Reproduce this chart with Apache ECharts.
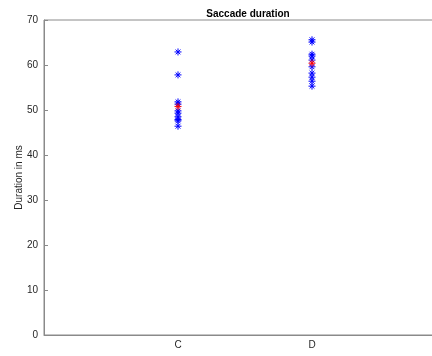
<!DOCTYPE html>
<html>
<head>
<meta charset="utf-8">
<script src="https://cdn.jsdelivr.net/npm/echarts@6/dist/echarts.min.js"></script>
<style>
  html, body { margin: 0; padding: 0; background: #fff; }
  #chart { width: 432px; height: 356px; }
</style>
</head>
<body>
<div id="chart"></div>
<script>
// Conditions along the x axis (placed at x = 1, 2, ...)
var categories = ['C', 'D'];
// Individual saccade durations (ms) per condition
var durationsC = [62.9, 57.8, 51.8, 51.3, 49.8, 49.3, 48.5, 47.9, 47.6, 46.4];
var durationsD = [65.6, 65.1, 62.4, 62.0, 61.1, 59.6, 58.2, 57.3, 56.4, 55.3];
// Mean duration per condition
var means = [50.8, 60.4];
// Y tick values
var yTicks = [0, 10, 20, 30, 40, 50, 60, 70];

var groups = [durationsC, durationsD];
var pointData = [];
groups.forEach(function (vals, i) {
  vals.forEach(function (v) { pointData.push([i + 1, v]); });
});
var meanData = means.map(function (v, i) { return [i + 1, v]; });

// Asterisk marker: vertical, horizontal and two diagonal strokes
var asterisk = 'path://M5,0L5,10M0,5L10,5M1.6,1.6L8.4,8.4M8.4,1.6L1.6,8.4';

var axisGray = '#8a8a8a';
var textGray = '#262626';
var font = 'Liberation Sans, Arial, Helvetica, sans-serif';

var chart = echarts.init(document.getElementById('chart'), null, { renderer: 'canvas' });
chart.setOption({
  animation: false,
  backgroundColor: '#fff',
  title: {
    text: 'Saccade duration',
    left: 243, top: 4,
    textAlign: 'center',
    textStyle: { fontFamily: font, fontSize: 10, fontWeight: 'bold', color: '#000' }
  },
  grid: {
    left: 44, right: -14, top: 20, bottom: 21,
    containLabel: false, outerBoundsMode: 'none',
    show: true, borderColor: axisGray, borderWidth: 1, backgroundColor: 'transparent'
  },
  xAxis: {
    type: 'value', min: 0, max: categories.length + 1, interval: 1,
    axisLine: { show: true, lineStyle: { color: axisGray } },
    axisTick: { show: false },
    splitLine: { show: false },
    axisLabel: {
      margin: 5, color: textGray, fontFamily: font, fontSize: 10,
      formatter: function (v) { return categories[v - 1] || ''; }
    }
  },
  yAxis: {
    type: 'value', min: yTicks[0], max: yTicks[yTicks.length - 1], interval: 10,
    name: 'Duration in ms', nameLocation: 'middle', nameGap: 20, nameMoveOverlap: false,
    nameTextStyle: { fontFamily: font, fontSize: 10, color: textGray },
    axisLine: { show: true, lineStyle: { color: axisGray } },
    axisTick: { show: true, inside: true, length: 4, lineStyle: { color: axisGray } },
    splitLine: { show: false },
    axisLabel: { margin: 6, color: textGray, fontFamily: font, fontSize: 10 }
  },
  series: [
    {
      type: 'scatter', data: pointData,
      symbol: asterisk, symbolSize: 7,
      itemStyle: { color: 'none', borderColor: '#0000ff', borderWidth: 1, opacity: 1 }
    },
    {
      type: 'scatter', data: meanData,
      symbol: asterisk, symbolSize: 7,
      itemStyle: { color: 'none', borderColor: '#ff0000', borderWidth: 1, opacity: 1 }
    }
  ]
});
</script>
</body>
</html>
